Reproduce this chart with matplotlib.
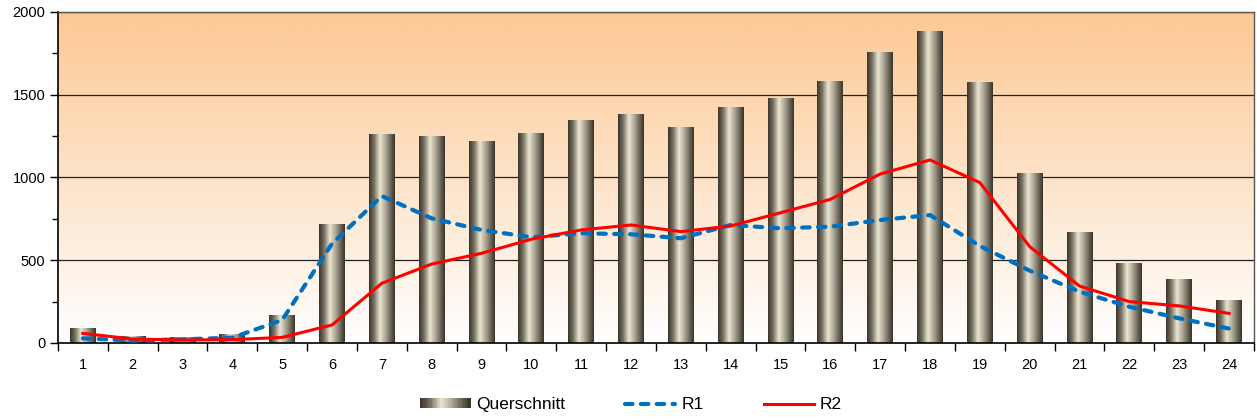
import numpy as np
import matplotlib
matplotlib.use('Agg')
import matplotlib.pyplot as plt
from matplotlib.colors import LinearSegmentedColormap
from matplotlib.patches import Rectangle
from matplotlib.legend_handler import HandlerBase
from matplotlib.ticker import MultipleLocator

hours = list(range(1, 25))
querschnitt = [90, 38, 34, 54, 169, 713, 1257, 1245, 1220, 1263, 1347, 1378,
               1305, 1420, 1480, 1577, 1758, 1885, 1571, 1027, 665, 483, 381, 254]
r1 = [28, 15, 22, 32, 139, 600, 888, 753, 683, 639, 663, 657,
      633, 713, 693, 703, 743, 773, 586, 437, 310, 219, 149, 87]
r2 = [58, 24, 18, 20, 34, 109, 361, 477, 542, 627, 683, 713,
      673, 707, 787, 868, 1021, 1106, 969, 582, 344, 250, 224, 179]

plt.rcParams['font.family'] = ['Liberation Sans', 'DejaVu Sans']

# metal cylinder look for the bars
barCmap = LinearSegmentedColormap.from_list('metal', [
    (0.0, '#3b342a'), (0.2, '#7a7466'), (0.42, '#e9e6cf'),
    (0.6, '#b8b3a2'), (0.85, '#6a6456'), (1.0, '#3b342a')])
bgCmap = LinearSegmentedColormap.from_list('bg', ['#ffffff', '#fde3c8', '#fdc894'])

r1Style = dict(color='#0070c0', lw=3, ls=(0, (1.8, 2.0)), dash_capstyle='round')
r2Style = dict(color='#ff0000', lw=2.2)


class GradientHandler(HandlerBase):
    def create_artists(self, legend, orig_handle, xdescent, ydescent,
                       width, height, fontsize, trans):
        n = 30
        arts = []
        for i in range(n):
            r = Rectangle((-xdescent + width * i / n, -ydescent), width / n + 0.3, height,
                          facecolor=barCmap(i / (n - 1)), edgecolor='none', transform=trans)
            arts.append(r)
        return arts


fig = plt.figure(figsize=(12.57, 4.19), dpi=100)
ax = fig.add_axes([0.0461, 0.1814, 0.9515, 0.79])

x = np.array(hours)
width = 0.52

# background gradient
grad = np.linspace(0, 1, 256).reshape(-1, 1)
ax.imshow(grad, aspect='auto', cmap=bgCmap, origin='lower',
          extent=[0, 1, 0, 1], transform=ax.transAxes, zorder=0)

for v in [500, 1000, 1500, 2000]:
    ax.axhline(v, color='#222222', lw=0.9, zorder=1)

hgrad = np.linspace(0, 1, 64).reshape(1, -1)
bars = ax.bar(x, querschnitt, width=width, color='none', edgecolor='none', zorder=2)
for b in bars:
    bx, by = b.get_x(), b.get_y()
    ax.imshow(hgrad, aspect='auto', cmap=barCmap,
              extent=[bx, bx + b.get_width(), by, by + b.get_height()], zorder=2)

ax.plot(x, r1, zorder=3, **r1Style)
ax.plot(x, r2, zorder=4, **r2Style)

ax.set_xlim(0.5, 24.5)
ax.set_ylim(0, 2000)

ax.set_xticks(x)
ax.set_xticklabels([str(h) for h in hours])
ax.set_xticks(np.arange(0.5, 25, 1), minor=True)
ax.tick_params(axis='x', which='major', length=0, pad=11, labelsize=10.5)
ax.tick_params(axis='x', which='minor', length=6, direction='out', width=1)
ax.yaxis.set_major_locator(MultipleLocator(500))
ax.yaxis.set_minor_locator(MultipleLocator(250))
ax.tick_params(axis='y', which='major', length=6, width=1, labelsize=10.5, pad=3)
ax.tick_params(axis='y', which='minor', length=4, width=1)

for s in ['left', 'bottom']:
    ax.spines[s].set_color('black')
    ax.spines[s].set_linewidth(1.2)
for s in ['top', 'right']:
    ax.spines[s].set_color('#555555')
    ax.spines[s].set_linewidth(1)

handles = [Rectangle((0, 0), 1, 1),
           plt.Line2D([], [], **r1Style),
           plt.Line2D([], [], **r2Style)]
fig.legend(handles, ['Querschnitt', 'R1', 'R2'], loc='center',
           bbox_to_anchor=(0.502, 0.034), ncol=3, frameon=False, fontsize=12.5,
           handlelength=2.9, handleheight=0.57, columnspacing=3.45, handletextpad=0.35,
           borderpad=0, handler_map={Rectangle: GradientHandler()})

fig.savefig('out.png', dpi=100)
